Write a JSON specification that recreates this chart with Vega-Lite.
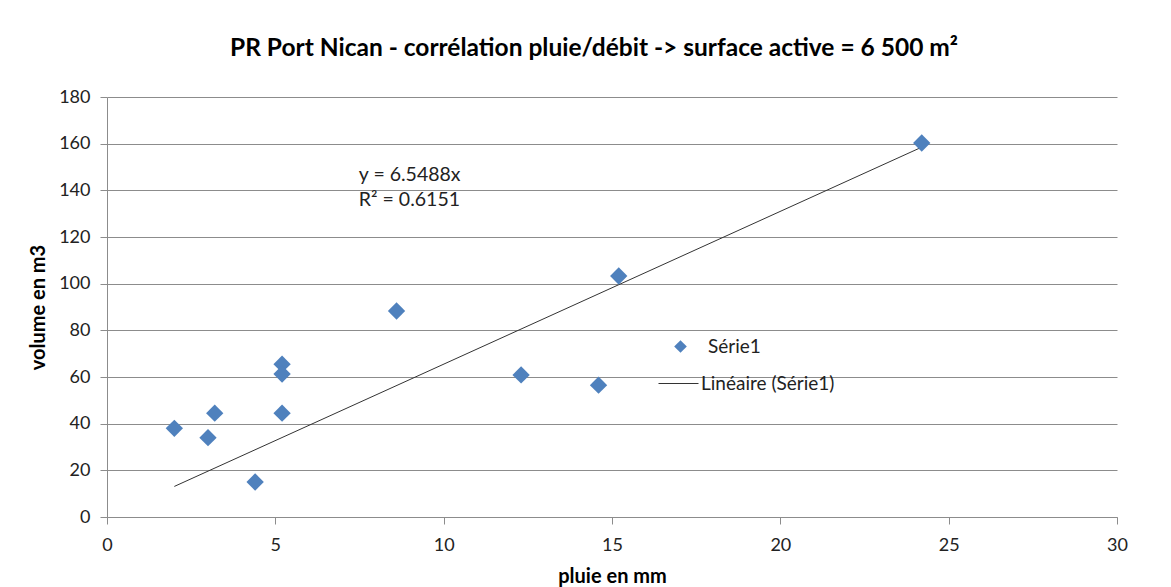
{
  "$schema": "https://vega.github.io/schema/vega-lite/v6.json",
  "autosize": "none",
  "width": 1010,
  "height": 420,
  "padding": {"left": 107, "top": 97, "right": 54, "bottom": 70},
  "background": "white",
  "title": {
    "text": "PR Port Nican - corrélation pluie/débit -> surface active = 6 500 m²",
    "font": "Lato",
    "fontSize": 24.5,
    "fontWeight": "bold",
    "color": "#000000",
    "anchor": "middle",
    "dx": -18,
    "offset": 27
  },
  "config": {
    "view": {"stroke": null},
    "font": "Lato",
    "axis": {
      "labelFont": "Lato",
      "labelFontSize": 18,
      "labelColor": "#222222",
      "titleFont": "Lato",
      "titleFontSize": 20,
      "titleFontWeight": "bold",
      "titleColor": "#000000",
      "domainColor": "#8c8c8c",
      "tickColor": "#8c8c8c",
      "gridColor": "#8c8c8c",
      "tickSize": 7
    },
    "legend": {"labelFont": "Lato", "labelFontSize": 19, "labelColor": "#222222"}
  },
  "datasets": {
    "points": [
      {"pluie": 2.0, "volume": 38, "serie": "Série1"},
      {"pluie": 3.0, "volume": 34, "serie": "Série1"},
      {"pluie": 3.2, "volume": 44.5, "serie": "Série1"},
      {"pluie": 4.4, "volume": 15, "serie": "Série1"},
      {"pluie": 5.2, "volume": 65.5, "serie": "Série1"},
      {"pluie": 5.2, "volume": 61.3, "serie": "Série1"},
      {"pluie": 5.2, "volume": 44.5, "serie": "Série1"},
      {"pluie": 8.6, "volume": 88.3, "serie": "Série1"},
      {"pluie": 12.3, "volume": 60.9, "serie": "Série1"},
      {"pluie": 14.6, "volume": 56.5, "serie": "Série1"},
      {"pluie": 15.2, "volume": 103.3, "serie": "Série1"},
      {"pluie": 24.2, "volume": 160.3, "serie": "Série1"}
    ],
    "trend": [
      {"pluie": 2.0, "volume": 13.1, "serie": "Linéaire (Série1)"},
      {"pluie": 24.2, "volume": 158.5, "serie": "Linéaire (Série1)"}
    ],
    "labels": [
      {"pluie": 7.48, "volume": 146.5, "label": "y = 6.5488x"},
      {"pluie": 7.48, "volume": 135.8, "label": "R² = 0.6151"}
    ]
  },
  "layer": [
    {
      "data": {"name": "trend"},
      "mark": {"type": "line", "strokeWidth": 1},
      "encoding": {
        "x": {
          "field": "pluie", "type": "quantitative",
          "scale": {"domain": [0, 30], "nice": false},
          "axis": {"title": "pluie en mm", "values": [0, 5, 10, 15, 20, 25, 30], "grid": false, "labelPadding": 12, "titlePadding": 12, "labelFlush": false}
        },
        "y": {
          "field": "volume", "type": "quantitative",
          "scale": {"domain": [0, 180], "nice": false},
          "axis": {"title": "volume en m3", "values": [0, 20, 40, 60, 80, 100, 120, 140, 160, 180], "grid": true, "labelPadding": 10, "titlePadding": 10, "labelFlush": false}
        },
        "color": {
          "field": "serie", "type": "nominal",
          "scale": {"range": ["#333333"]},
          "legend": {"title": null, "orient": "none", "legendX": 551, "legendY": 266, "symbolSize": 1600, "symbolStrokeWidth": 1, "labelOffset": 2}
        }
      }
    },
    {
      "data": {"name": "points"},
      "mark": {"type": "point", "filled": true, "color": "#4F81BD", "opacity": 1, "size": 300},
      "encoding": {
        "x": {"field": "pluie", "type": "quantitative"},
        "y": {"field": "volume", "type": "quantitative"},
        "shape": {
          "field": "serie", "type": "nominal",
          "scale": {"range": ["diamond"]},
          "legend": {"title": null, "orient": "none", "legendX": 564, "legendY": 240, "symbolSize": 160, "labelOffset": 18}
        }
      }
    },
    {
      "data": {"name": "labels"},
      "mark": {"type": "text", "align": "left", "baseline": "middle", "fontSize": 19.5, "font": "Lato", "color": "#222222"},
      "encoding": {
        "x": {"field": "pluie", "type": "quantitative"},
        "y": {"field": "volume", "type": "quantitative"},
        "text": {"field": "label"}
      }
    }
  ]
}
